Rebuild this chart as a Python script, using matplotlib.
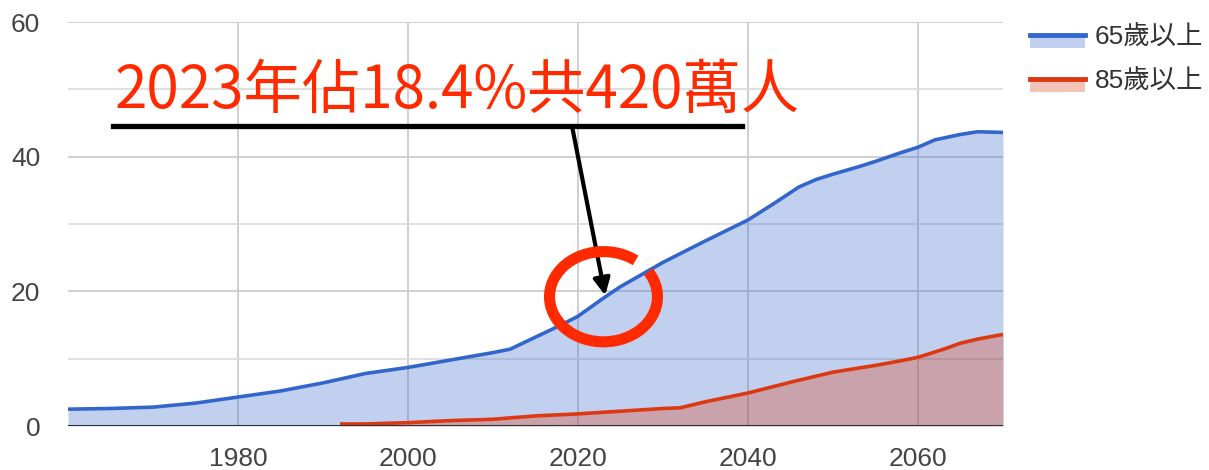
import matplotlib.pyplot as plt
from matplotlib.patches import Arc, Rectangle
from matplotlib.lines import Line2D

# Data
years_65 = [1960, 1965, 1970, 1975, 1980, 1985, 1990, 1995, 2000, 2005, 2010, 2012,
            2015, 2018, 2020, 2023, 2025, 2030, 2035, 2040, 2043, 2046, 2048, 2050,
            2053, 2055, 2058, 2060, 2062, 2065, 2067, 2070]
pct_65 = [2.5, 2.6, 2.8, 3.4, 4.3, 5.2, 6.4, 7.8, 8.7, 9.8, 10.9, 11.4,
          13.2, 15.0, 16.3, 19.0, 20.7, 24.3, 27.5, 30.6, 33.0, 35.5, 36.6, 37.4,
          38.5, 39.3, 40.6, 41.4, 42.5, 43.3, 43.7, 43.6]

years_85 = [1992, 1995, 2000, 2005, 2010, 2015, 2020, 2025, 2030, 2032, 2035, 2040,
            2045, 2050, 2055, 2058, 2060, 2063, 2065, 2067, 2070]
pct_85 = [0.3, 0.3, 0.5, 0.8, 1.0, 1.5, 1.8, 2.2, 2.6, 2.7, 3.6, 4.9,
          6.5, 8.0, 9.0, 9.7, 10.2, 11.4, 12.3, 12.9, 13.6]

labels = ["65歲以上", "85歲以上"]
note = "2023年佔18.4%共420萬人"

blue = "#3366cc"
red = "#dc3912"
W, H = 1209, 470

fig = plt.figure(figsize=(W / 100, H / 100), dpi=100)
ax = fig.add_axes([68 / W, 1 - 426 / H, (1003 - 68) / W, (426 - 22) / H])

ax.fill_between(years_65, pct_65, 0, color=blue, alpha=0.3, lw=0)
ax.fill_between(years_85, pct_85, 0, color=red, alpha=0.3, lw=0)
ax.plot(years_65, pct_65, color=blue, lw=2.6, solid_capstyle="butt")
ax.plot(years_85, pct_85, color=red, lw=2.6, solid_capstyle="butt")

ax.set_xlim(1960, 2070)
ax.set_ylim(0, 60)
ax.set_xticks([1980, 2000, 2020, 2040, 2060])
ax.set_yticks([0, 20, 40, 60])
ax.set_yticks(range(0, 61, 10), minor=True)
ax.grid(True, which="major", color="#cccccc", lw=1.3)
ax.grid(True, which="minor", axis="y", color="#dddddd", lw=1.3)
ax.set_axisbelow(True)
ax.axhline(0, color="#333333", lw=1.5)
for s in ax.spines.values():
    s.set_visible(False)
ax.tick_params(which="both", length=0, labelsize=19, labelcolor="#444444",
               labelfontfamily="Liberation Sans")
ax.tick_params(axis="y", pad=20)
ax.tick_params(axis="x", pad=15)

# annotation
fig.text(115 / W, 1 - 108 / H, note, color="#ff2a00", fontsize=42,
         family=["Noto Sans CJK TC", "DejaVu Sans"], va="baseline", ha="left")
fig.add_artist(Line2D([113 / W, 742 / W], [1 - 126 / H, 1 - 126 / H],
                      color="black", lw=3.8, transform=fig.transFigure))
ax.annotate("", xy=(2023.2, 19.4), xycoords="data",
            xytext=(572 / W, 1 - 126 / H), textcoords="figure fraction",
            arrowprops=dict(arrowstyle="-|>", color="black", lw=3,
                            mutation_scale=25, shrinkA=0, shrinkB=0))
ax.add_patch(Arc((2023.0, 19.2), 12.7, 13.4, theta1=55, theta2=395,
                 color="#ff2a00", lw=8, zorder=5))

# legend drawn by hand
for i, (lab, c) in enumerate(zip(labels, [blue, red])):
    yl = 35 + 44 * i
    fig.add_artist(Rectangle((1030 / W, 1 - (yl + 13) / H), 55 / W, 13 / H,
                             transform=fig.transFigure, color=c, alpha=0.3, lw=0))
    fig.add_artist(Line2D([1030 / W, 1085 / W], [1 - yl / H, 1 - yl / H],
                          color=c, lw=3.5, transform=fig.transFigure))
    fig.text(1095 / W, 1 - (yl + 3) / H, lab, fontsize=19, color="#333333",
             family=["Liberation Sans", "Noto Sans CJK TC"], va="center", ha="left")

plt.savefig("out.png", dpi=100)
